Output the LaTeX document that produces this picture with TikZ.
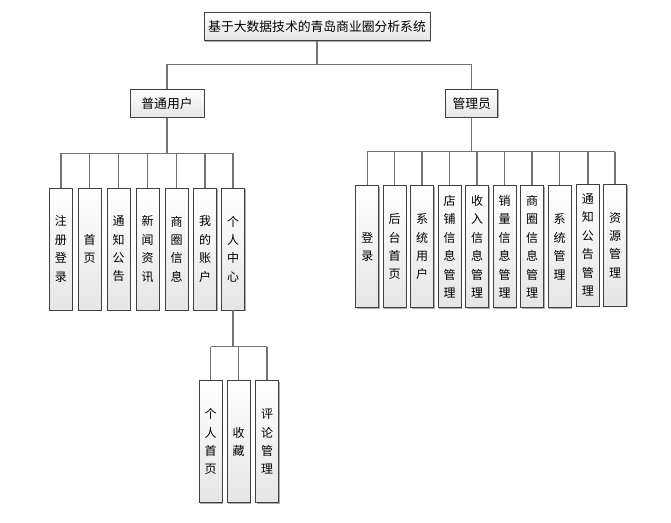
\documentclass[tikz,border=0pt]{standalone}
\usepackage{fontspec}
\newfontfamily\cjk{Noto Sans CJK SC}
\usetikzlibrary{shadows}

\tikzset{
  box/.style={draw=black!75, line width=0.6pt, top color=white, bottom color=black!10,
    drop shadow={shadow xshift=0.8pt, shadow yshift=-0.8pt, fill=black!45, opacity=0.7},
    inner sep=0pt, font=\cjk\fontsize{9.6}{11}\selectfont},
  leaf/.style={box, minimum width=17.25pt, minimum height=91.5pt, align=center,
    font=\cjk\fontsize{9}{13.8}\selectfont},
  link/.style={draw=black!55, line width=1.1pt},
}

\begin{document}
\begin{tikzpicture}[x=0.75pt, y=-0.75pt]
  \useasboundingbox (0,0) rectangle (671,522);

  % top and second level
  \node[box, minimum width=169.5pt, minimum height=21pt] (root) at (317,26.7) {基于大数据技术的青岛商业圈分析系统};
  \node[box, minimum width=55.5pt, minimum height=21pt] (user) at (167,103.3) {普通用户};
  \node[box, minimum width=39pt, minimum height=21pt] (admin) at (471.7,103.3) {管理员};

  % bus heights
  \coordinate (topbus) at (0,64.3);
  \coordinate (ubus) at (0,153.3);
  \coordinate (abus) at (0,151.7);
  \coordinate (pbus) at (0,346.7);

  % user children
  \node[leaf] (u1) at (60.8,249) {注\\册\\登\\录};
  \node[leaf] (u2) at (89.7,249) {首\\页};
  \node[leaf] (u3) at (118.7,249) {通\\知\\公\\告};
  \node[leaf] (u4) at (147.5,249) {新\\闻\\资\\讯};
  \node[leaf] (u5) at (176.5,249) {商\\圈\\信\\息};
  \node[leaf] (u6) at (205,249) {我\\的\\账\\户};
  \node[leaf] (u7) at (233,249) {个\\人\\中\\心};

  % personal centre children
  \node[leaf] (p1) at (210.5,441.8) {个\\人\\首\\页};
  \node[leaf] (p2) at (238.7,441.8) {收\\藏};
  \node[leaf] (p3) at (267,441.8) {评\\论\\管\\理};

  % admin children
  \node[leaf] (a1) at (367.3,246.8) {登\\录};
  \node[leaf] (a2) at (394.5,246.8) {后\\台\\首\\页};
  \node[leaf] (a3) at (422.2,246.8) {系\\统\\用\\户};
  \node[leaf] (a4) at (449.7,246.8) {店\\铺\\信\\息\\管\\理};
  \node[leaf] (a5) at (477.2,246.8) {收\\入\\信\\息\\管\\理};
  \node[leaf] (a6) at (504.7,246.8) {销\\量\\信\\息\\管\\理};
  \node[leaf] (a7) at (532.2,246.8) {商\\圈\\信\\息\\管\\理};
  \node[leaf] (a8) at (559.5,246.8) {系\\统\\管\\理};
  \node[leaf] (a9) at (587.8,245) {通\\知\\公\\告\\管\\理};
  \node[leaf] (a10) at (615.2,245) {资\\源\\管\\理};

  % connectors
  \draw[link] (root.south) -- (root.south |- topbus);
  \draw[link] (user.north) |- (root.south |- topbus) -| (admin.north);

  \draw[link] (user.south) -- (user.south |- ubus);
  \draw[link] (u1.north |- ubus) -- (u7.north |- ubus);
  \foreach \n in {u1,u2,u3,u4,u5,u6,u7}
    \draw[link] (\n.north) -- (\n.north |- ubus);

  \draw[link] (u7.south) -- (u7.south |- pbus);
  \draw[link] (p1.north |- pbus) -- (p3.north |- pbus);
  \foreach \n in {p1,p2,p3}
    \draw[link] (\n.north) -- (\n.north |- pbus);

  \draw[link] (admin.south) -- (admin.south |- abus);
  \draw[link] (a1.north |- abus) -- (a10.north |- abus);
  \foreach \n in {a1,a2,a3,a4,a5,a6,a7,a8,a9,a10}
    \draw[link] (\n.north) -- (\n.north |- abus);
\end{tikzpicture}
\end{document}
